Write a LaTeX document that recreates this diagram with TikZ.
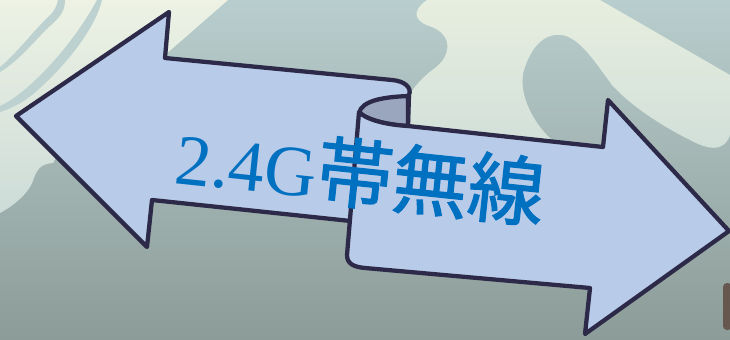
\documentclass[tikz,border=0pt]{standalone}
\usepackage{fontspec}
\setmainfont{Liberation Serif}
\newfontfamily\cjk[FakeBold=1.6]{Noto Sans CJK JP}
\definecolor{arrowfill}{HTML}{B8CBE9}
\definecolor{curlfill}{HTML}{9AA6BD}
\definecolor{outline}{HTML}{2C2A48}
\definecolor{txtblue}{HTML}{0070C0}
\definecolor{bgtop}{HTML}{B8CDCD}
\definecolor{bgbot}{HTML}{8C9C98}
\definecolor{creamA}{HTML}{EDF2E4}
\definecolor{creamB}{HTML}{CDDCD8}
\definecolor{creamC}{HTML}{E7EEDF}
\definecolor{creamD}{HTML}{D1DFD9}
\definecolor{streak}{HTML}{BCD1D0}
\definecolor{blob}{HTML}{66574F}
\tikzset{
  arrowshape/.style={fill=arrowfill, draw=outline, line width=3.2pt, line join=round},
  curlshape/.style={fill=curlfill, draw=outline, line width=3.2pt, line join=round},
}
\begin{document}
\begin{tikzpicture}[x=0.75pt, y=-0.75pt]
\useasboundingbox (0,0) rectangle (730,339);
\clip (0,0) rectangle (730,339);
% background
\shade[top color=bgtop, bottom color=bgbot] (0,0) rectangle (730,339);
\shade[top color=creamA, bottom color=creamB]
  (0,0) -- (228,0) -- (165,55) -- (60,150) -- (53,163)
  .. controls (40,164) and (37,170) .. (34,178)
  .. controls (30,192) and (15,205) .. (0,213) -- cycle;
\shade[top color=creamC, bottom color=creamD]
  (427,0) -- (600,0) -- (730,75) -- (730,135)
  .. controls (725,150) and (712,152) .. (690,140)
  .. controls (660,125) and (630,105) .. (612,85)
  .. controls (595,62) and (580,38) .. (562,35)
  .. controls (545,33) and (532,45) .. (524,70)
  .. controls (518,90) and (530,120) .. (552,140)
  -- (410,130) -- (408,97)
  .. controls (415,85) and (425,75) .. (435,68)
  .. controls (452,55) and (452,35) .. (432,27)
  .. controls (415,22) and (410,12) .. (427,0) -- cycle;
\fill[streak] (58,0) -- (65,0) .. controls (65,12) and (59,18) .. (50,26)
  .. controls (35,40) and (20,60) .. (0,72) -- (0,67)
  .. controls (15,55) and (30,35) .. (47,18) .. controls (54,12) and (57,6) .. (58,0) -- cycle;
\fill[streak] (97,0) -- (102,0) .. controls (95,30) and (62,70) .. (32,95)
  .. controls (22,103) and (10,109) .. (0,112) -- (0,106)
  .. controls (25,95) and (70,50) .. (97,0) -- cycle;
\fill[blob, rounded corners=3] (723,283) rectangle (732,330);
% left arrow (with curl)
\path[arrowshape] (16,116) -- (169,12) -- (165,58) -- (392,80)
  .. controls (405,81) and (412,88) .. (409,95) -- (408,125)
  -- (360,222) -- (152,200) -- (147,247) -- cycle;
% inside of the curl
\path[curlshape] (408,96) .. controls (385,97) and (362,100) .. (359,113)
  .. controls (370,121) and (390,125) .. (408,126) -- cycle;
% right arrow
\path[arrowshape] (359,112) -- (347,255)
  .. controls (347,264) and (354,267) .. (365,268) -- (590,288) -- (585,334)
  -- (729,231) -- (608,100) -- (603,147) -- (408,126)
  .. controls (390,125) and (368,121) .. (359,112) -- cycle;
% label
\node[text=txtblue, anchor=base west, rotate=-6, inner sep=0pt] (label) at (173,183)
  {\fontsize{54}{60}\selectfont 2.4G{\cjk\fontsize{57}{60}\selectfont 帯無線}};
\end{tikzpicture}
\end{document}
